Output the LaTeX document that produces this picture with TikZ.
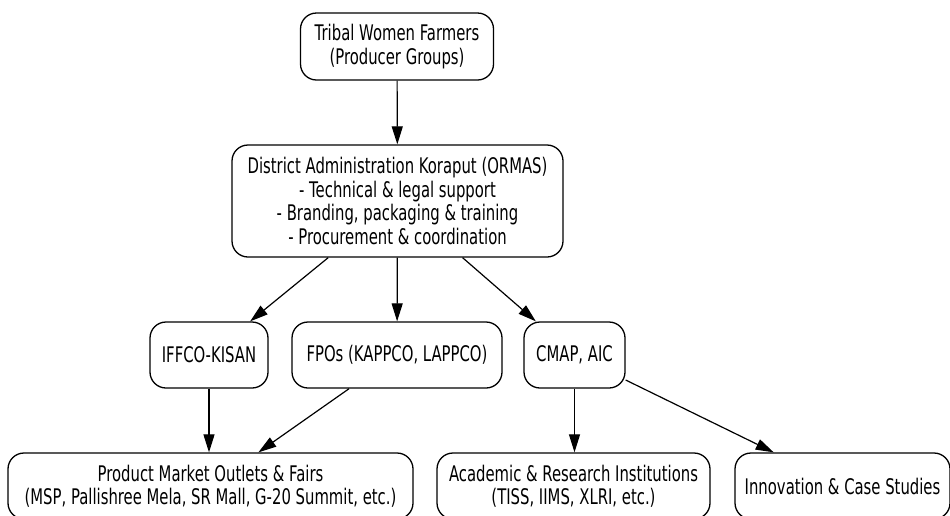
\documentclass[tikz,border=0pt]{standalone}
\usepackage{fontspec}
\setmainfont{DejaVu Sans}[FakeStretch=0.69]
\usetikzlibrary{arrows.meta}

\begin{document}
\begin{tikzpicture}[x=1pt, y=-1pt,
	box/.style={draw, rectangle, rounded corners=16pt, line width=1.3pt,
		align=center, inner sep=0pt, minimum height=66pt,
		font=\fontsize{21.5}{23.5}\selectfont},
	link/.style={-{Triangle[length=18pt, width=11pt]}, line width=1.2pt}]
	\useasboundingbox (0,0) rectangle (950,515);

	\node[box, minimum width=193pt, minimum height=67pt] (farmers) at (397,46.5)
		{Tribal Women Farmers\\(Producer Groups)};
	\node[box, minimum width=331pt, minimum height=112pt] (ormas) at (397.5,201)
		{District Administration Koraput (ORMAS)\\- Technical \& legal support\\
		 - Branding, packaging \& training\\- Procurement \& coordination};

	\node[box, minimum width=118pt] (iffco) at (209,355) {IFFCO-KISAN};
	\node[box, minimum width=210pt] (fpo)   at (397,355) {FPOs (KAPPCO, LAPPCO)};
	\node[box, minimum width=101pt] (cmap)  at (574.5,355) {CMAP, AIC};

	\node[box, minimum width=405pt] (market)   at (210.5,486)
		{Product Market Outlets \& Fairs\\(MSP, Pallishree Mela, SR Mall, G-20 Summit, etc.)};
	\node[box, minimum width=273pt] (academic) at (573.5,486)
		{Academic \& Research Institutions\\(TISS, IIMS, XLRI, etc.)};
	\node[box, minimum width=215pt] (innov)    at (842.5,486)
		{Innovation \& Case Studies};

	\draw[link] (farmers) -- (ormas);
	\draw[link] (ormas) -- (iffco);
	\draw[link] (ormas) -- (fpo);
	\draw[link] (ormas) -- (cmap);
	\draw[link] (iffco) -- (market.north -| iffco);
	\draw[link] (fpo) -- (market);
	\draw[link] (cmap) -- (academic.north -| cmap);
	\draw[link] (cmap) -- (innov);
\end{tikzpicture}
\end{document}
